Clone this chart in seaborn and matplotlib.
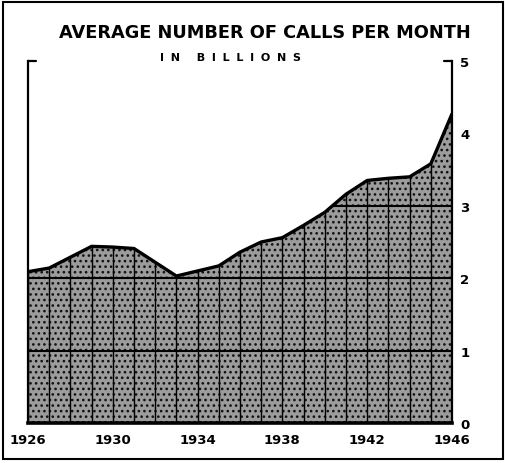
import numpy as np
import pandas as pd
import seaborn as sns
import matplotlib.pyplot as plt
from matplotlib.patches import Rectangle

# %% Data (billions of calls per month)
years = list(range(1926, 1947))
calls = [2.09, 2.14, 2.29, 2.44, 2.43, 2.41, 2.22, 2.03, 2.10, 2.17, 2.36,
         2.50, 2.56, 2.73, 2.91, 3.16, 3.35, 3.38, 3.40, 3.58, 4.27]
xtick_years = [1926, 1930, 1934, 1938, 1942, 1946]
ytick_vals = [0, 1, 2, 3, 4, 5]
grid_levels = [1, 2, 3]

df = pd.DataFrame({'year': years, 'calls': calls})

# %% Plot
sns.set_style('white')
plt.rcParams['font.family'] = ['DejaVu Sans']
plt.rcParams['text.color'] = 'black'
plt.rcParams['xtick.color'] = 'black'
plt.rcParams['ytick.color'] = 'black'
plt.rcParams['hatch.linewidth'] = 1.1

fig = plt.figure(figsize=(5.06, 4.64), dpi=100)
ax = fig.add_axes([28 / 506, 40 / 464, 424 / 506, 362 / 464])

# stippled area
area = ax.fill_between(df['year'], 0, df['calls'], facecolor='#9c9c9c',
                       edgecolor='#111111', hatch='...', linewidth=0, zorder=1)
clip = area.get_paths()[0]

# grid lines only inside the shaded area
for yr in df['year']:
    ln = ax.axvline(yr, color='black', linewidth=1.0, zorder=2)
    ln.set_clip_path(clip, ax.transData)
for lev in grid_levels:
    ln = ax.axhline(lev, color='black', linewidth=1.5, zorder=2)
    ln.set_clip_path(clip, ax.transData)

# top outline
sns.lineplot(data=df, x='year', y='calls', color='black', linewidth=2.4,
             ax=ax, zorder=3)

ax.set_xlim(1926, 1946)
ax.set_ylim(0, 5)
ax.set_xlabel('')
ax.set_ylabel('')

ax.set_xticks(xtick_years)
ax.set_xticklabels([str(y) for y in xtick_years], fontsize=9.5, fontweight='bold')
ax.yaxis.tick_right()
ax.set_yticks(ytick_vals)
ax.set_yticklabels([str(v) for v in ytick_vals], fontsize=9.5, fontweight='bold')
ax.tick_params(axis='both', length=0)
ax.tick_params(axis='x', pad=7)
ax.tick_params(axis='y', pad=6)

for side in ['left', 'right']:
    ax.spines[side].set_linewidth(1.6)
    ax.spines[side].set_color('black')
ax.spines['bottom'].set_linewidth(2.6)
ax.spines['bottom'].set_color('black')
ax.spines['top'].set_visible(False)

# little corner ticks at the top
ax.plot([0, 0.018], [1, 1], color='black', linewidth=1.6,
        transform=ax.transAxes, clip_on=False)
ax.plot([0.982, 1], [1, 1], color='black', linewidth=1.6,
        transform=ax.transAxes, clip_on=False)

# titles
fig.text(265 / 506, 1 - 33 / 464, 'AVERAGE NUMBER OF CALLS PER MONTH',
         ha='center', va='center', fontsize=12.8, fontweight='bold')
gap = '\u2002\u200a'
fig.text(231 / 506, 1 - 58 / 464,
         gap.join('IN') + '\u2003\u2002' + gap.join('BILLIONS'),
         ha='center', va='center', fontsize=8, fontweight='bold')

# outer frame
fig.patches.append(Rectangle((3 / 506, 4 / 464), 500 / 506, 457 / 464,
                             transform=fig.transFigure, fill=False,
                             edgecolor='black', linewidth=1.5))

fig.savefig('out.png', dpi=100)
